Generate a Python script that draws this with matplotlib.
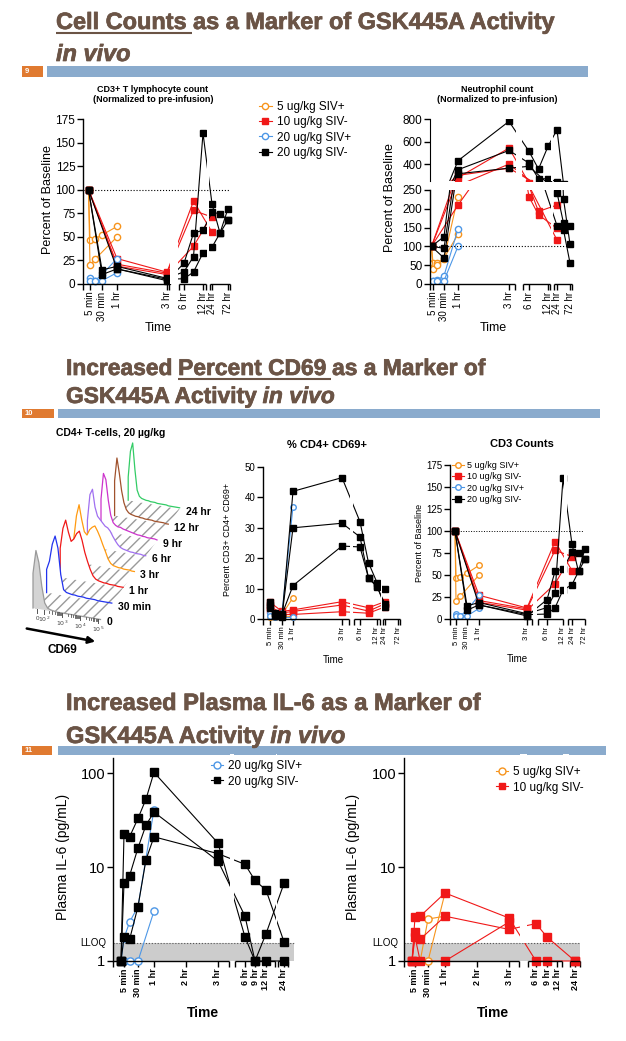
import numpy as np
import matplotlib
matplotlib.use('Agg')
import matplotlib.pyplot as plt
import matplotlib.patheffects as pe
from matplotlib.lines import Line2D
from matplotlib.patches import Polygon, Rectangle
from matplotlib.transforms import Affine2D
from matplotlib.ticker import NullLocator

plt.rcParams['font.family'] = ['Liberation Sans', 'DejaVu Sans']
TITLE_FONT = ['Liberation Sans Narrow', 'Liberation Sans', 'DejaVu Sans']

W, H = 626, 1041
BROWN = '#6b5446'
ORANGE = '#f7941d'
RED = '#f01818'
BLUE = '#4d97e6'
BLACK = 'black'
nan = np.nan
M5, M15, M30, M45 = 5 / 60, 0.25, 0.5, 0.75

# ---------------- data ----------------
grp_labels = ['5 ug/kg SIV+', '10 ug/kg SIV-', '20 ug/kg SIV+', '20 ug/kg SIV-']

# CD3+ T lymphocyte count (% of baseline)
cd3_t = [0, M5, M15, M30, 1, 3, 6, 9, 12, 24, 48, 72]
cd3_5_pos = [[100, 47, 48, 52, 61, nan, nan, nan, nan, nan, nan, nan],
             [100, 20, 26, nan, 50, nan, nan, nan, nan, nan, nan, nan]]
cd3_10_neg = [[100, nan, nan, nan, 27, 12.5, nan, 88, nan, 55, nan, nan],
              [100, nan, nan, nan, 21, 11.5, nan, 78, nan, 71, nan, nan],
              [100, nan, nan, nan, 19, 10, nan, 40, nan, 73, nan, nan]]
cd3_20_pos = [[nan, 6, 3.5, 10, 27, nan, nan, nan, nan, nan, nan, nan],
              [nan, 3.5, 3, 3.5, 12, nan, nan, nan, nan, nan, nan, nan]]
cd3_20_neg = [[100, nan, nan, 15, 18.7, 6, 13, 29, 160, 85, 54, 80],
              [100, nan, nan, 10, 16, 3.5, 22, 54, 57, 76, 74.5, 68],
              [100, nan, nan, nan, 16, 5, 5.6, 12.7, 33, 39, 54, 68]]

# Neutrophil count (% of baseline)
neu_5_pos = [[100, 56, 57, 67, 232, nan, nan, nan, nan, nan, nan, nan],
             [100, 40, 51, 69, 132, nan, nan, nan, nan, nan, nan, nan]]
neu_10_neg = [[100, nan, nan, nan, 280, 542, 232, 184, nan, 148, nan, nan],
              [100, nan, nan, nan, 210, 400, nan, 193, nan, 210, nan, nan],
              [100, nan, nan, nan, 300, 364, nan, nan, nan, 117, nan, nan]]
neu_20_pos = [[nan, 7, 11, 22, 146, nan, nan, nan, nan, nan, nan, nan],
              [nan, 7, 7, 9, 100, nan, nan, nan, nan, nan, nan, nan]]
neu_20_neg = [[100, nan, nan, 126, 430, 779, 513, 356, 557, 705, 226, 106],
              [100, nan, nan, 95, 350, 521, 409, 270, 270, 243, 162, 153],
              [100, nan, nan, 69, 314, 364, 380, nan, nan, 155, 144, 56]]

# % CD4+ CD69+
cd69_t = [M5, M15, M30, 1, 3, 6, 9, 12, 24]
cd69_5_pos = [[1, 1, 1.5, 7, nan, nan, nan, nan, nan],
              [0.5, 0.5, 1, 0.8, nan, nan, nan, nan, nan]]
cd69_10_neg = [[5.5, nan, 2.5, 3, 5.7, nan, 3.7, nan, 5.7],
               [4, nan, 2, 2.5, 4.6, nan, 2.6, nan, 5],
               [3, nan, 1.5, 1.5, 2.4, nan, 1.9, nan, 4]]
cd69_20_pos = [[2, 1, 2, 37, nan, nan, nan, nan, nan],
               [1, 0.5, 0.5, 0.5, nan, nan, nan, nan, nan]]
cd69_20_neg = [[5.5, 1, 0.5, 42, 46.5, 32, 18.5, 12, 10],
               [4.5, 1.5, 1, 30, 31.5, 27, 13.5, 10.5, 5],
               [3.5, 2, 1.5, 11, 24, 23.7, 13.5, 11, 4]]

# Plasma IL-6 (pg/mL)
il6_t = [0, M5, M15, M30, M45, 1, 3, 6, 9, 12, 24]
il6_20_pos = [[1, 1.75, 2.6, 3.8, nan, 41, nan, nan, nan, nan, nan],
              [1, 1, 1, 1, nan, 3.4, nan, nan, nan, nan, nan]]
il6_20_neg = [[1, 22.3, 21, 33, 53, 102, 18, 1.8, 1, 1, 1],
              [1, 6.7, 8.1, 16, 28, 38.5, 11.6, 3, 1, 1.95, 6.7],
              [1, 1.8, 1.7, 3.8, 12, 21, 13.9, 10.7, 7.2, 5.7, 1.6]]
il6_5_pos = [[1, 1, 1, 2.8, nan, 3.0, nan, nan, nan, nan, nan],
             [1, 1, 1, 1, nan, 5.3, nan, nan, nan, nan, nan]]
il6_10_neg = [[1, 2.94, 3, nan, nan, 5.3, 2.87, 1, 1, nan, 1],
              [1, 2.03, 1.7, nan, nan, 3.0, 2.17, 2.5, 1.8, nan, 1],
              [1, 1.8, 1, nan, nan, 1, 2.6, nan, nan, nan, nan]]
LLOQ = 1.55

# flow histograms (CD69, CD4+ T-cells 20 ug/kg), relative height per bin
hist_labels = ['0', '30 min', '1 hr', '3 hr', '6 hr', '9 hr', '12 hr', '24 hr']
hist_colors = ['#9a9a9a', '#2233ee', '#f01818', '#ff9a10', '#a070f0', '#cc33cc', '#a0522d', '#33cc66']
hist_0 = [0.6, 1.0, 0.8, 0.4, 0.12, 0.04, 0.02, 0.01, 0, 0, 0, 0, 0, 0, 0, 0, 0, 0, 0, 0, 0, 0, 0, 0]
hist_30m = [0.4, 0.55, 0.85, 1.0, 0.8, 0.35, 0.1, 0.06, 0.05, 0.04, 0.04, 0.03, 0.03, 0.03, 0.02, 0.02, 0.02, 0.02, 0.01, 0.01, 0.01, 0.01, 0.01, 0.01]
hist_1h = [0.5, 0.85, 1.0, 0.8, 0.65, 0.7, 0.8, 0.85, 0.7, 0.5, 0.35, 0.22, 0.12, 0.07, 0.05, 0.04, 0.03, 0.03, 0.02, 0.02, 0.02, 0.01, 0.01, 0.01]
hist_3h = [0.4, 0.8, 1.0, 0.75, 0.55, 0.5, 0.6, 0.65, 0.68, 0.6, 0.5, 0.38, 0.27, 0.15, 0.08, 0.05, 0.04, 0.03, 0.03, 0.02, 0.02, 0.02, 0.01, 0.01]
hist_6h = [0.45, 0.9, 1.0, 0.7, 0.55, 0.5, 0.45, 0.4, 0.38, 0.33, 0.25, 0.18, 0.12, 0.08, 0.06, 0.05, 0.04, 0.03, 0.03, 0.02, 0.02, 0.02, 0.01, 0.01]
hist_9h = [0.55, 1.0, 0.9, 0.55, 0.3, 0.18, 0.14, 0.12, 0.12, 0.1, 0.09, 0.08, 0.07, 0.06, 0.05, 0.04, 0.04, 0.03, 0.03, 0.02, 0.02, 0.02, 0.02, 0.01]
hist_12h = [0.6, 1.0, 0.75, 0.45, 0.25, 0.14, 0.09, 0.07, 0.06, 0.05, 0.05, 0.04, 0.04, 0.03, 0.03, 0.03, 0.03, 0.02, 0.02, 0.02, 0.02, 0.02, 0.01, 0.01]
hist_24h = [0.4, 0.85, 1.0, 0.55, 0.2, 0.1, 0.07, 0.06, 0.05, 0.05, 0.04, 0.04, 0.04, 0.03, 0.03, 0.03, 0.03, 0.03, 0.02, 0.02, 0.02, 0.02, 0.02, 0.02]
hists = [hist_0, hist_30m, hist_1h, hist_3h, hist_6h, hist_9h, hist_12h, hist_24h]

# x tick layout (hours -> px along each axis)
lab8 = ['5 min', '30 min', '1 hr', '3 hr', '6 hr', '12 hr', '24 hr', '72 hr']
lab9 = ['5 min', '30 min', '1 hr', '2 hr', '3 hr', '6 hr', '9 hr', '12 hr', '24 hr']
h8 = [0, M5, M30, 1, 3, 6, 12, 24, 72]
h9 = [0, M5, M30, 1, 2, 3, 6, 9, 12, 24]

# ---------------- figure ----------------
fig = plt.figure(figsize=(W / 100, H / 100), dpi=100)
bg = fig.add_axes([0, 0, 1, 1])
bg.set_xlim(0, W)
bg.set_ylim(H, 0)
bg.axis('off')
renderer = fig.canvas.get_renderer()


def panel(x0, y0, x1, y1):
    ax = fig.add_axes([x0 / W, 1 - y1 / H, (x1 - x0) / W, (y1 - y0) / H])
    ax.patch.set_alpha(0)
    return ax


def add_gaps(ax, segs, ymin=0.0):
    tr = ax.get_xaxis_transform()
    for (a1, b1), (a2, b2) in zip(segs[:-1], segs[1:]):
        ax.add_patch(Rectangle((b1 + 1, ymin), a2 - b1 - 2, 1.02 - ymin, transform=tr,
                               facecolor='white', lw=0, zorder=2.6, clip_on=False))


def style(ax, width, tp, labels, segs, ylim, yticks, yfs, xfs, xbold=False, log=False, gap_ymin=0.0):
    if log:
        ax.set_yscale('log')
    ax.set_xlim(0, width)
    ax.set_ylim(*ylim)
    for s in ['top', 'right', 'bottom']:
        ax.spines[s].set_visible(False)
    ax.spines['left'].set_linewidth(1)
    ax.set_xticks(tp[1:])
    ax.set_xticklabels(labels, rotation=90, fontsize=xfs, fontweight='bold' if xbold else 'normal')
    ax.set_xticks([e for s in segs for e in s], minor=True)
    ax.set_yticks(yticks)
    ax.set_yticklabels([str(v) for v in yticks], fontsize=yfs)
    if log:
        ax.yaxis.set_minor_locator(NullLocator())
    ax.tick_params(which='both', direction='out', length=4, width=1, pad=1.5)
    ax.tick_params(axis='x', which='minor', length=4)
    tr = ax.get_xaxis_transform()
    for a, b in segs:
        ax.plot([a, b], [0, 0], transform=tr, color='k', lw=1, clip_on=False, zorder=3,
                solid_capstyle='butt')
    add_gaps(ax, segs, gap_ymin)


def draw(ax, times, th, tp, data, color, marker, hollow, ms, lw=0.8, clip=False):
    t = np.asarray(times, float)
    for vals in data:
        v = np.asarray(vals, float)
        ok = ~np.isnan(v)
        ax.plot(np.interp(t[ok], th, tp), v[ok], color=color, lw=lw, marker=marker, ms=ms,
                mfc='white' if hollow else color, mec=color, mew=1.0, clip_on=clip, zorder=2)


def handle(color, marker, hollow, ms):
    return Line2D([], [], color=color, lw=0.8, marker=marker, ms=ms,
                  mfc='white' if hollow else color, mec=color, mew=1.0)


def four_groups(ax, times, th, tp, d5, d10, d20p, d20n, ms, clip=False):
    draw(ax, times, th, tp, d5, ORANGE, 'o', True, ms, clip=clip)
    draw(ax, times, th, tp, d10, RED, 's', False, ms, clip=clip)
    draw(ax, times, th, tp, d20p, BLUE, 'o', True, ms, clip=clip)
    draw(ax, times, th, tp, d20n, BLACK, 's', False, ms, clip=clip)


def legend4(ms):
    return [handle(ORANGE, 'o', True, ms), handle(RED, 's', False, ms),
            handle(BLUE, 'o', True, ms), handle(BLACK, 's', False, ms)]


def txt(x, y, s, fs, **kw):
    kw.setdefault('ha', 'center')
    kw.setdefault('va', 'center')
    bg.text(x, y, s, fontsize=fs, **kw)


# ---------------- slide headers ----------------
HEAVY = [pe.withStroke(linewidth=0.5, foreground=BROWN)]


def tw(s, fs, italic):
    t = bg.text(0, 100, s, fontsize=fs, fontweight='bold', family=TITLE_FONT,
                fontstyle='italic' if italic else 'normal')
    w = t.get_window_extent(renderer).width
    t.remove()
    return w


def title_line(parts, x, y, fs):
    for s, italic, under in parts:
        t = bg.text(x, y, s, fontsize=fs, fontweight='bold', family=TITLE_FONT, color=BROWN,
                    fontstyle='italic' if italic else 'normal', ha='left', va='baseline',
                    path_effects=HEAVY)
        x1 = x + t.get_window_extent(renderer).width
        if under:
            bg.plot([x, x1 + fs * 0.35], [y + 4, y + 4], color=BROWN, lw=1.5, solid_capstyle='butt')
        x = x1


def header(line1, line2, y1, y2, target, bar_y, num, box, bar):
    fs = 16 * target / sum(tw(s, 16, it) for s, it, u in line1)
    title_line(line1, 56 if num == '9' else 66, y1, fs)
    title_line(line2, 56 if num == '9' else 66, y2, fs)
    bg.add_patch(Rectangle((box[0], bar_y[0]), box[1] - box[0], bar_y[1] - bar_y[0],
                           facecolor='#e07a30', lw=0))
    bg.add_patch(Rectangle((bar[0], bar_y[0]), bar[1] - bar[0], bar_y[1] - bar_y[0],
                           facecolor='#8aabcd', lw=0))
    bg.text(box[0] + 3, (bar_y[0] + bar_y[1]) / 2, num, fontsize=5.5, fontweight='bold',
            color='white', ha='left', va='center')


header([('Cell Counts', False, True), (' as a Marker of GSK445A Activity', False, False)],
       [('in vivo', True, False)], 29, 61, 498, (66, 77), '9', (22, 43), (47, 588))
header([('Increased ', False, False), ('Percent CD69', False, True), (' as a Marker of', False, False)],
       [('GSK445A Activity', False, False), (' in vivo', True, False)], 375, 403, 420,
       (409, 418), '10', (22, 54), (58, 600))
header([('Increased Plasma IL-6 as a Marker of', False, False)],
       [('GSK445A Activity', False, False), (' in vivo', True, False)], 710, 743, 414,
       (746, 755), '11', (22, 52), (58, 606))

# ---------------- slide 1: CD3 count ----------------
tp_a = [5.5, 7, 19, 34, 84, 101, 120, 129, 145]
ax = panel(83, 119, 235, 284)
style(ax, 152, tp_a, lab8, [(0, 86), (96, 123), (127, 147)], (0, 175), [0, 25, 50, 75, 100, 125, 150, 175], 8.5, 7)
ax.axhline(100, xmin=0, xmax=147 / 152, color='k', ls=':', lw=0.8, zorder=2.7)
four_groups(ax, cd3_t, h8, tp_a, cd3_5_pos, cd3_10_neg, cd3_20_pos, cd3_20_neg, 4.5)
txt(153, 90, 'CD3+ T lymphocyte count', 6.5, fontweight='bold')
txt(153, 100, '(Normalized to pre-infusion)', 6.5, fontweight='bold')
txt(48, 200, 'Percent of Baseline', 9, rotation=90)
txt(158, 328, 'Time', 9)
fig.legend(legend4(4.5), grp_labels, loc='upper left', bbox_to_anchor=(259 / W, 1 - 101 / H),
           frameon=False, fontsize=8.5, handlelength=1.1, handletextpad=0.4, labelspacing=0.28,
           borderaxespad=0, borderpad=0)

# ---------------- slide 1: neutrophil count (broken y axis) ----------------
tp_b = [1.5, 3, 14, 28, 79, 99, 118, 127, 140]
segs_b = [(0, 85), (93, 120), (124, 142)]
lo = panel(430, 190, 580, 284)
style(lo, 150, tp_b, lab8, segs_b, (0, 250), [0, 50, 100, 150, 200, 250], 8.5, 7)
lo.axhline(100, xmin=0, xmax=142 / 150, color='k', ls=':', lw=0.8, zorder=2.7)
up = panel(430, 119, 580, 181)
up.set_xlim(0, 150)
up.set_ylim(250, 800)
for s in ['top', 'right', 'bottom']:
    up.spines[s].set_visible(False)
up.set_xticks([])
up.set_yticks([400, 600, 800])
up.set_yticklabels(['400', '600', '800'], fontsize=8.5)
up.tick_params(direction='out', length=4, width=1, pad=1.5)
add_gaps(up, segs_b)
for a in (lo, up):
    four_groups(a, cd3_t, h8, tp_b, neu_5_pos, neu_10_neg, neu_20_pos, neu_20_neg, 4.5, clip=True)
txt(497, 90, 'Neutrophil count', 6.5, fontweight='bold')
txt(497, 100, '(Normalized to pre-infusion)', 6.5, fontweight='bold')
txt(390, 198, 'Percent of Baseline', 9, rotation=90)
txt(493, 328, 'Time', 9)

# ---------------- slide 2: flow histograms ----------------
x0, y0 = 33.0, 608.0
sx, sy = 13.6, -15.4
lens = [67.5 - 2.3 * k for k in range(8)]
starts = [(x0 + k * sx, y0 + k * sy) for k in range(8)]
ends = [(starts[k][0] + lens[k], starts[k][1] + 0.17 * lens[k]) for k in range(8)]
bg.add_patch(Polygon([starts[0], ends[0], ends[7], starts[7]], closed=True, facecolor='white',
                     edgecolor='#9a9a9a', hatch='///', lw=0, zorder=1))
for k in range(7, -1, -1):
    hv = np.array(hists[k])
    u = np.linspace(0, 1, len(hv))
    tr = Affine2D.from_values(lens[k], 0.17 * lens[k], 0, -58, starts[k][0], starts[k][1]) + bg.transData
    fc = '#d4d4d4' if k == 0 else 'white'
    bg.add_patch(Polygon([(0, 0)] + list(zip(u, hv)) + [(1, 0)], closed=True, facecolor=fc,
                         edgecolor='none', transform=tr, zorder=2 + (8 - k) * 0.1))
    bg.plot(np.r_[0, u], np.r_[0, hv], color=hist_colors[k], lw=0.9, transform=tr,
            zorder=2.05 + (8 - k) * 0.1)
    bg.text(ends[k][0] + 6, ends[k][1] + 3, hist_labels[k], fontsize=7.5, fontweight='bold',
            ha='left', va='center', zorder=4)
# CD69 scale along the front edge
dec_u = [0.06, 0.16, 0.43, 0.70, 0.97]
dec_lab = ['0', r'$10^2$', r'$10^3$', r'$10^4$', r'$10^5$']
for i, (uu, lab) in enumerate(zip(dec_u, dec_lab)):
    px, py = starts[0][0] + uu * lens[0], starts[0][1] + 0.17 * uu * lens[0]
    bg.plot([px, px], [py, py + 4], color='#555555', lw=0.7, zorder=4)
    bg.text(px, py + 10, lab, fontsize=4.5, color='#444444', ha='center', va='center', zorder=4)
    if 0 < i < 4:
        for m in range(2, 10):
            uu2 = uu + np.log10(m) * (dec_u[i + 1] - uu)
            qx, qy = starts[0][0] + uu2 * lens[0], starts[0][1] + 0.17 * uu2 * lens[0]
            bg.plot([qx, qx], [qy, qy + 2.5], color='#555555', lw=0.6, zorder=4)
bg.annotate('', xy=(98, 642), xytext=(24, 628),
            arrowprops=dict(arrowstyle='-|>', lw=1.8, color='k', mutation_scale=10))
txt(62, 650, 'CD69', 8.5, fontweight='bold')
txt(111, 433, 'CD4+ T-cells, 20 µg/kg', 7.5, fontweight='bold')

# ---------------- slide 2: % CD4+ CD69+ ----------------
tp_c = [5.5, 7, 19, 30, 79, 97, 114, 122, 135]
ax = panel(263, 467, 405, 619)
style(ax, 142, tp_c, lab8, [(0, 86), (91, 117), (120, 137)], (0, 50), [0, 10, 20, 30, 40, 50], 7, 5.5)
four_groups(ax, cd69_t, h8, tp_c, cd69_5_pos, cd69_10_neg, cd69_20_pos, cd69_20_neg, 4)
txt(327, 445, '% CD4+ CD69+', 8, fontweight='bold')
txt(228, 540, 'Percent CD3+ CD4+ CD69+', 6.5, rotation=90)
txt(333, 660, 'Time', 7)

# ---------------- slide 2: CD3 counts ----------------
tp_d = [5, 6, 17, 29, 77, 97, 113, 122, 135]
ax = panel(450, 465, 590, 619)
style(ax, 140, tp_d, lab8, [(0, 82), (88, 113), (118, 135)], (0, 175), [0, 25, 50, 75, 100, 125, 150, 175], 7, 5.5)
ax.axhline(100, xmin=0, xmax=133 / 140, color='k', ls=':', lw=0.7, zorder=2.7)
four_groups(ax, cd3_t, h8, tp_d, cd3_5_pos, cd3_10_neg, cd3_20_pos, cd3_20_neg, 4)
txt(522, 444, 'CD3 Counts', 8, fontweight='bold')
txt(420, 543, 'Percent of Baseline', 6.5, rotation=90)
txt(517, 659, 'Time', 7)
ax.legend(legend4(4), grp_labels, loc='upper left', bbox_to_anchor=(452 / W, 1 - 461 / H),
          bbox_transform=fig.transFigure, frameon=False, fontsize=6.5, handlelength=1.3,
          handletextpad=0.4, labelspacing=0.25, borderaxespad=0, borderpad=0)

# ---------------- slide 3: IL-6 ----------------
band_frac = np.log10(LLOQ) / np.log10(145)
tp_e = [8, 11, 25, 41, 73, 105, 132, 142, 153, 171]
ax = panel(113, 758, 296, 961)
style(ax, 183, tp_e, lab9, [(0, 116), (122, 162), (165, 175)], (1, 145), [1, 10, 100], 10.5, 6.5,
      xbold=True, log=True, gap_ymin=band_frac)
ax.axhspan(1, LLOQ, xmin=0, xmax=181 / 183, facecolor='#cccccc', lw=0, zorder=0.5)
ax.axhline(LLOQ, xmin=0, xmax=181 / 183, color='#555555', ls=':', lw=0.8, zorder=0.6)
draw(ax, il6_t, h9, tp_e, il6_20_pos, BLUE, 'o', True, 5.2)
draw(ax, il6_t, h9, tp_e, il6_20_neg, BLACK, 's', False, 5.2)
txt(63, 857, 'Plasma IL-6 (pg/mL)', 10, rotation=90)
txt(93, 943, 'LLOQ', 7)
txt(203, 1013, 'Time', 10, fontweight='bold')
ax.legend([handle(BLUE, 'o', True, 5), handle(BLACK, 's', False, 5)], grp_labels[2:],
          loc='upper left', bbox_to_anchor=(211 / W, 1 - 760 / H), bbox_transform=fig.transFigure,
          frameon=False, fontsize=8.5, handlelength=1.0, handletextpad=0.4, labelspacing=0.3,
          borderaxespad=0, borderpad=0)

tp_f = [8, 11, 24, 41, 73, 105, 132, 143, 153, 171]
ax = panel(404, 758, 586, 961)
style(ax, 182, tp_f, lab9, [(0, 115), (124, 158), (166, 176)], (1, 145), [1, 10, 100], 10.5, 6.5,
      xbold=True, log=True, gap_ymin=band_frac)
ax.axhspan(1, LLOQ, xmin=0, xmax=176 / 182, facecolor='#cccccc', lw=0, zorder=0.5)
ax.axhline(LLOQ, xmin=0, xmax=176 / 182, color='#555555', ls=':', lw=0.8, zorder=0.6)
draw(ax, il6_t, h9, tp_f, il6_5_pos, ORANGE, 'o', True, 5.2)
draw(ax, il6_t, h9, tp_f, il6_10_neg, RED, 's', False, 5.2)
txt(353, 857, 'Plasma IL-6 (pg/mL)', 10, rotation=90)
txt(385, 943, 'LLOQ', 7)
txt(493, 1013, 'Time', 10, fontweight='bold')
ax.legend([handle(ORANGE, 'o', True, 5), handle(RED, 's', False, 5)], grp_labels[:2],
          loc='upper left', bbox_to_anchor=(496 / W, 1 - 766 / H), bbox_transform=fig.transFigure,
          frameon=False, fontsize=8.5, handlelength=1.0, handletextpad=0.4, labelspacing=0.3,
          borderaxespad=0, borderpad=0)

fig.savefig('out.png', dpi=100, facecolor='white')
